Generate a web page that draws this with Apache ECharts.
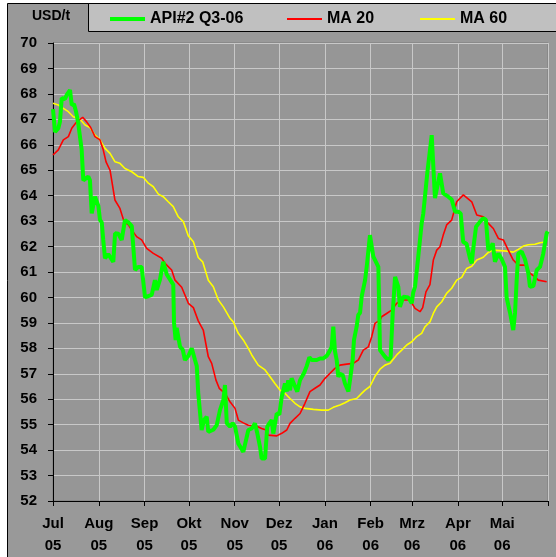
<!DOCTYPE html>
<html>
<head>
<meta charset="utf-8">
<script src="https://cdn.jsdelivr.net/npm/echarts@6/dist/echarts.min.js"></script>
<style>
  html, body { margin: 0; padding: 0; background: #fff; }
  #chart { width: 556px; height: 557px; }
</style>
</head>
<body>
<div id="chart"></div>
<script>
// x = Tage seit 01.07.2005
const monthDays = [0, 31, 62, 92, 123, 153, 184, 215, 243, 274, 304, 335]
const monthLabels = ['Jul\n05', 'Aug\n05', 'Sep\n05', 'Okt\n05', 'Nov\n05', 'Dez\n05', 'Jan\n06', 'Feb\n06', 'Mrz\n06', 'Apr\n06', 'Mai\n06', '']

const apiDays = [0, 1.4, 3.6, 4.7, 5.9, 8.1, 9.3, 11.5, 12.7, 14.2, 15.6, 17.1, 19.4, 20.5, 21.7, 23.9, 25, 26.2, 27.3, 28.4,
  29.6, 30.7, 31.8, 33, 34, 35.2, 37.4, 38.6, 40.8, 42, 44.2, 46.5, 48.7, 51, 53.3, 55.5, 57.7, 60, 62.3, 64.5,
  66.8, 69, 70.2, 72.4, 74.6, 77, 80.3, 81.4, 81.9, 83, 83.7, 84.8, 86, 87.8, 89.3, 91.6, 93.9, 96.1, 97.3, 98.3,
  100.6, 102.2, 104, 105.1, 108.5, 110.8, 113, 115.3, 116.4, 117.6, 119.8, 121.6, 123.2, 125.4, 128.8, 129.9, 132.2, 134.5, 136.7, 138.3,
  140.1, 141.2, 143.5, 145, 146.4, 148, 149.1, 150.2, 151.4, 153.2, 154.8, 157, 158.2, 159.2, 160.4, 161.5, 163.8, 165.3, 167.2, 169.9,
  171.7, 173.5, 175.1, 178.5, 180.7, 182.9, 185.2, 187, 188.6, 189.7, 190.8, 192, 193.1, 194.2, 196.1, 197.6, 199.9, 201, 202.8, 203.7,
  205.5, 206.6, 207.8, 208.9, 211.2, 212.5, 214.5, 216.8, 220.2, 221.3, 224.7, 226.9, 228.5, 229.9, 231.5, 233.7, 234.8, 237.1, 240.4, 242.8,
  243.8, 245, 247.2, 249.5, 250.6, 251.8, 253.3, 256.3, 258.5, 259.7, 261.9, 263.1, 264.1, 265.3, 267.5, 269.8, 272.1, 274.3, 275.9, 277.6,
  279.9, 282.2, 283.4, 284.4, 286.3, 289, 291.2, 293, 294.6, 296.2, 297.6, 299.1, 301.4, 303.7, 305.9, 307, 309.3, 311.5, 312.7, 313.8,
  314.9, 317.2, 319.4, 321.7, 322.8, 325.1, 327.4, 329.6, 331.8, 334.1, 334.8]
const apiVals = [67.4, 66.5, 66.65, 66.9, 67.83, 67.8, 67.96, 68.15, 67.56, 67.6, 67.3, 66.84, 65.8, 64.6, 64.55, 64.75, 64.6, 63.3, 63.25, 63.96,
  63.9, 63.6, 63.04, 62.95, 62.26, 61.54, 61.7, 61.75, 61.4, 62.52, 62.5, 62.26, 63.04, 62.95, 62.8, 61.08, 61.2, 61.2, 60.0, 60.05,
  60.1, 60.68, 60.3, 60.7, 61.4, 60.9, 60.6, 60.5, 59.0, 58.33, 58.8, 58.75, 58.06, 57.95, 57.54, 57.7, 58.0, 57.54, 57.3, 56.24,
  54.79, 55.18, 55.31, 54.72, 54.8, 54.98, 55.57, 55.97, 56.56, 55.06, 54.92, 55.06, 54.92, 54.26, 53.93, 54.0, 54.79, 54.85, 55.05, 54.65,
  54.13, 53.67, 53.67, 54.92, 55.05, 55.18, 54.65, 54.7, 55.44, 55.4, 56.1, 56.62, 56.3, 56.75, 56.35, 56.82, 56.5, 56.3, 56.75, 57.03,
  57.3, 57.65, 57.54, 57.54, 57.6, 57.6, 57.7, 57.87, 58.06, 58.85, 57.9, 57.54, 56.88, 57.0, 56.95, 56.62, 56.3, 56.75, 57.54, 58.33,
  58.85, 59.31, 59.4, 60.03, 60.68, 61.3, 62.45, 61.6, 61.2, 57.93, 57.67, 57.54, 57.65, 59.37, 60.81, 60.42, 59.63, 60.03, 60.0, 59.77,
  60.2, 60.42, 61.6, 62.91, 63.3, 63.3, 64.88, 66.38, 63.9, 63.95, 64.88, 64.94, 64.09, 64.05, 63.96, 63.85, 63.37, 63.37, 63.3, 62.19,
  62.1, 61.54, 61.34, 61.9, 62.78, 62.98, 63.11, 63.05, 61.86, 61.95, 62.13, 61.4, 61.73, 61.5, 61.2, 60.0, 59.4, 58.72, 59.4, 60.68,
  61.73, 61.8, 61.5, 60.95, 60.42, 60.45, 61.08, 61.2, 61.73, 62.52, 62.6]

const ma20Days = [0, 3.6, 7, 10.4, 12.7, 16, 20.1, 22.8, 25.5, 28.4, 31.8, 34, 35.9, 38.6, 41.9, 45.3, 48.1, 51, 53.3, 56.6,
  60, 63.4, 67.9, 73.6, 75.8, 80.3, 82.6, 87.1, 91.6, 95, 98.3, 101.7, 105.1, 107.4, 110.3, 112.5, 116.4, 119.8, 123.2, 125.4,
  128.8, 132.2, 137.9, 141.2, 144.2, 145.7, 151.4, 154.8, 158.2, 160.4, 163.8, 167.2, 170.5, 173.9, 177.3, 180.7, 184.1, 187.5, 190.8, 194.2,
  198.8, 203.2, 206.6, 210, 213.4, 215.7, 217.9, 221.3, 222.4, 225.8, 229.2, 232.6, 236, 241.6, 245, 248.4, 250.2, 252.4, 255.1, 257.4,
  259.7, 261.9, 264.1, 266.4, 269.8, 273.2, 277.7, 283.4, 286.8, 291.2, 294.6, 298, 301.4, 304.8, 308.1, 311.5, 314.9, 319.4, 322.8, 326.2,
  328.4, 334.1]
const ma20Vals = [65.6, 65.8, 66.19, 66.32, 66.65, 66.9, 67.08, 66.9, 66.68, 66.32, 66.19, 65.8, 65.33, 65.0, 63.83, 63.5, 62.98, 62.85, 62.65, 62.39,
  62.26, 61.93, 61.73, 61.54, 61.34, 61.08, 60.68, 60.4, 59.77, 59.6, 59.08, 58.72, 57.67, 57.41, 56.75, 56.43, 56.23, 55.9, 55.64, 55.18,
  55.07, 54.98, 54.94, 54.85, 54.79, 54.59, 54.56, 54.66, 54.79, 55.05, 55.25, 55.44, 55.84, 56.3, 56.43, 56.56, 56.82, 57.02, 57.21, 57.34,
  57.38, 57.41, 57.54, 57.93, 58.06, 58.46, 58.98, 59.11, 59.24, 59.37, 59.5, 59.77, 59.9, 59.9, 59.57, 59.44, 59.6, 60.22, 60.5, 61.47,
  61.86, 61.99, 62.45, 62.85, 63.04, 63.76, 64.03, 63.76, 63.24, 63.17, 62.91, 62.71, 62.32, 62.26, 61.86, 61.47, 61.27, 61.27, 60.95, 60.81,
  60.68, 60.62]

const ma60Days = [0, 3.6, 7, 10.4, 13.7, 18.3, 21.7, 25, 28.4, 31.8, 35.2, 38.6, 42, 45.3, 48.7, 53.3, 57.7, 61.1, 64.5, 67.9,
  71.3, 74.6, 78, 81.4, 84.8, 88.2, 91.6, 95, 98.3, 101.3, 105.1, 108.5, 111.9, 115.3, 119.8, 122, 125.4, 128.8, 132.2, 134.5,
  138.9, 143.5, 146.9, 150.2, 153.6, 157, 160.4, 163.8, 167.2, 170.5, 176.2, 181.9, 186.3, 189.7, 194.2, 197.6, 201, 205.5, 208.9, 211.2,
  214.5, 217.9, 221.3, 224.7, 228.1, 232.6, 236, 239.4, 242.8, 246.1, 249.5, 251.8, 255.1, 257.4, 259.7, 263.1, 266.4, 269.8, 273.2, 276.6,
  280, 283.4, 286.8, 291.2, 294.6, 298, 302.5, 307, 311.5, 314.9, 318.3, 321.7, 326.2, 329.6, 334.1]
const ma60Vals = [67.63, 67.56, 67.43, 67.3, 67.1, 67.0, 66.78, 66.68, 66.38, 66.19, 65.86, 65.66, 65.33, 65.27, 65.07, 64.94, 64.75, 64.72, 64.49, 64.35,
  64.06, 63.96, 63.76, 63.57, 63.17, 62.98, 62.42, 62.19, 61.57, 61.4, 60.68, 60.42, 59.9, 59.63, 59.18, 59.04, 58.59, 58.33, 58.0, 57.74,
  57.34, 57.15, 56.88, 56.62, 56.36, 56.23, 56.03, 55.84, 55.7, 55.64, 55.6, 55.57, 55.57, 55.68, 55.77, 55.86, 55.97, 56.03, 56.23, 56.36,
  56.5, 56.9, 57.18, 57.34, 57.41, 57.74, 57.93, 58.13, 58.26, 58.46, 58.59, 58.85, 59.04, 59.37, 59.63, 59.83, 60.16, 60.36, 60.68, 60.79,
  61.14, 61.23, 61.47, 61.58, 61.77, 61.86, 61.84, 61.82, 61.78, 61.89, 62.02, 62.07, 62.09, 62.15, 62.19]

const zip = (xs, ys) => xs.map((x, i) => [x, ys[i]])
const font = 'Liberation Sans, Arial, sans-serif'

// eine Legende je Eintrag, damit die Abstände wie im Original sind
const legendItem = (name, left, h) => ({
  data: [name],
  left: left,
  top: 10,
  icon: 'rect',
  itemWidth: 35,
  itemHeight: h,
  itemGap: 0,
  padding: 0,
  selectedMode: false,
  textStyle: { fontFamily: font, fontSize: 16, fontWeight: 'bold', color: '#000', lineHeight: 18 }
})

const option = {
  animation: false,
  backgroundColor: '#fff',
  graphic: [
    { type: 'rect', z: -10, shape: { x: 7.5, y: 3.5, width: 560, height: 560 }, style: { fill: '#999999', stroke: '#000', lineWidth: 1 } },
    { type: 'rect', z: -9, shape: { x: 88.5, y: 3.5, width: 480, height: 28 }, style: { fill: '#c0c0c0', stroke: '#000', lineWidth: 1 } },
    { type: 'text', left: 32, top: 9, style: { text: 'USD/t', font: 'bold 14px ' + font, fill: '#000' } }
  ],
  legend: [
    legendItem('API#2 Q3-06', 110, 4),
    legendItem('MA 20', 287, 2),
    legendItem('MA 60', 420, 2)
  ],
  grid: {
    left: 53, right: 8, top: 43, bottom: 56,
    show: true, backgroundColor: '#969696', borderColor: '#7a7a7a', borderWidth: 1
  },
  xAxis: {
    type: 'value',
    min: 0,
    max: 335,
    axisLine: { show: true, onZero: false, lineStyle: { color: '#000' } },
    axisTick: { show: true, length: 5, customValues: monthDays, lineStyle: { color: '#000' } },
    splitLine: { show: true, lineStyle: { color: '#c8c8c8', width: 1 } },
    axisLabel: {
      customValues: monthDays,
      margin: 12,
      lineHeight: 22,
      fontFamily: font, fontSize: 15, fontWeight: 'bold', color: '#000',
      formatter: v => monthLabels[monthDays.indexOf(v)] || ''
    }
  },
  yAxis: {
    type: 'value',
    min: 52,
    max: 70,
    interval: 1,
    axisLine: { show: true, lineStyle: { color: '#000' } },
    axisTick: { show: true, length: 5, lineStyle: { color: '#000' } },
    splitLine: { show: true, lineStyle: { color: '#c8c8c8', width: 1 } },
    axisLabel: { margin: 16, fontFamily: font, fontSize: 15, fontWeight: 'bold', color: '#000' }
  },
  series: [
    { name: 'MA 60', type: 'line', symbol: 'none', z: 3, data: zip(ma60Days, ma60Vals), lineStyle: { color: '#ffff00', width: 1.6 }, itemStyle: { color: '#ffff00' } },
    { name: 'MA 20', type: 'line', symbol: 'none', z: 4, data: zip(ma20Days, ma20Vals), lineStyle: { color: '#ff0000', width: 1.6 }, itemStyle: { color: '#ff0000' } },
    { name: 'API#2 Q3-06', type: 'line', symbol: 'none', z: 5, data: zip(apiDays, apiVals), lineStyle: { color: '#00ff00', width: 4 }, itemStyle: { color: '#00ff00' } }
  ]
}

const chart = echarts.init(document.getElementById('chart'))
chart.setOption(option)
</script>
</body>
</html>
